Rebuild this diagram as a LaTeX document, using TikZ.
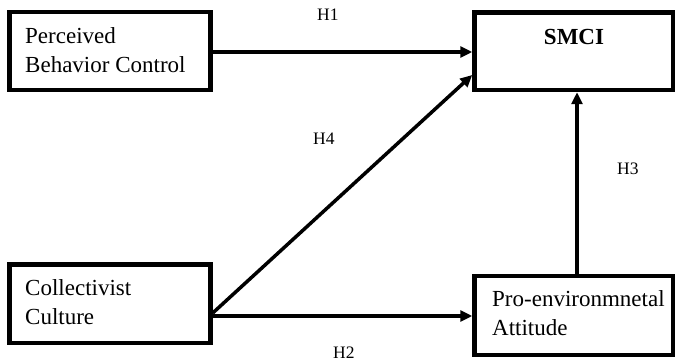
\documentclass[tikz,border=0pt]{standalone}
\usepackage{fontspec}
\setmainfont{Liberation Serif}
\usetikzlibrary{arrows.meta}
\begin{document}
\begin{tikzpicture}[x=1pt,y=-1pt,
  box/.style={draw, line width=4.5pt, inner sep=0pt},
  boxtext/.style={font=\fontsize{23}{29.5}\selectfont, align=left, anchor=north west, inner sep=0pt},
  hyp/.style={font=\fontsize{17.5}{20}\selectfont, inner sep=0pt, anchor=base west},
  link/.style={line width=3.5pt, -{Triangle[length=12pt,width=11pt]}}]
\useasboundingbox (0,0) rectangle (676,363);
% boxes
\node[box, minimum width=201pt, minimum height=78pt] (pbc) at (110,51) {};
\node[box, minimum width=198.5pt, minimum height=77.5pt] (smci) at (573.75,51.25) {};
\node[box, minimum width=201pt, minimum height=78.5pt] (coll) at (110,303.75) {};
\node[box, minimum width=198.5pt, minimum height=79pt] (pro) at (573.75,315.5) {};
% texts
\node[boxtext] (pbctext) at (25,27) {Perceived\\Behavior Control};
\node[boxtext] (colltext) at (25,279) {Collectivist\\Culture};
\node[boxtext] (protext) at (492,290) {Pro-environmnetal\\Attitude};
\node[font=\fontsize{23}{28}\selectfont\bfseries, inner sep=0pt, anchor=base] (smcitext) at (574,45) {SMCI};
% connectors
\draw[link] (pbc.east |- 0,52) -- (smci.west |- 0,52);
\draw[link] (coll.east |- 0,313) -- (smci.west |- 0,75);
\draw[link] (coll.east |- 0,316) -- (pro.west |- 0,316);
\draw[link] (pro.north -| 577,0) -- (smci.south -| 577,0);
% hypothesis labels
\node[hyp] (h1) at (317,21) {H1};
\node[hyp] (h4) at (313,145) {H4};
\node[hyp] (h3) at (617,175) {H3};
\node[hyp] (h2) at (333,358) {H2};
\end{tikzpicture}
\end{document}
